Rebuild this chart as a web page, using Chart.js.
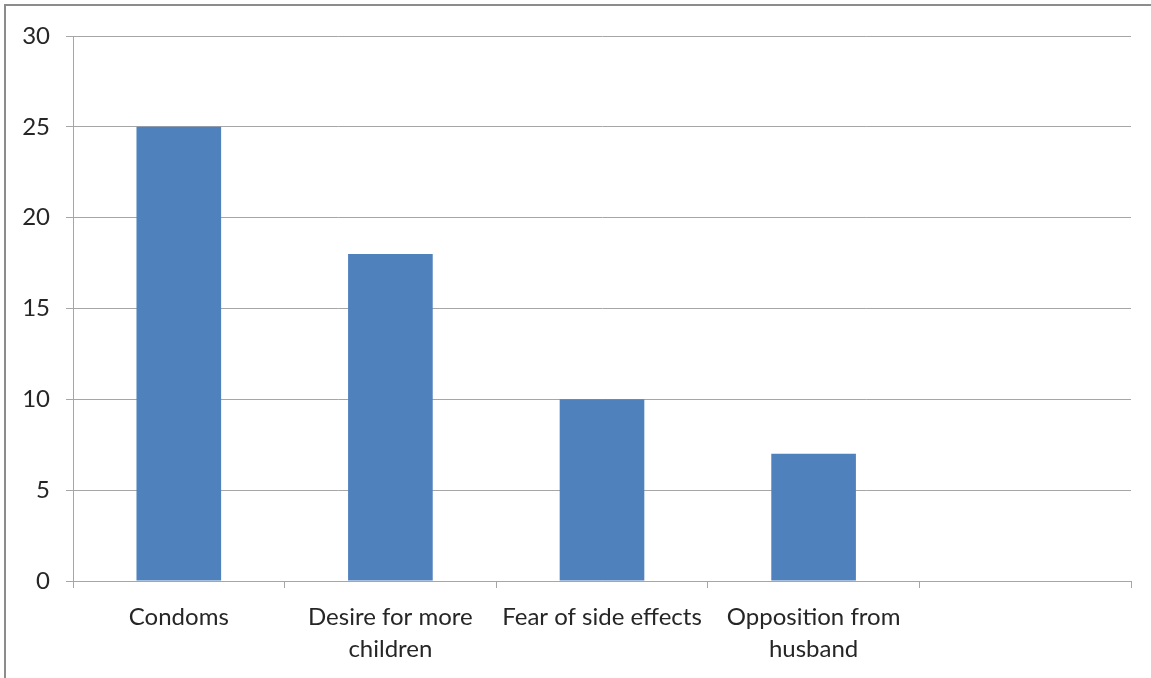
<!DOCTYPE html>
<html>
<head>
<meta charset="utf-8">
<script src="https://cdn.jsdelivr.net/npm/chart.js@4/dist/chart.umd.min.js"></script>
<style>
  html, body { margin: 0; padding: 0; background: #fff; }
  #c { display: block; }
</style>
</head>
<body>
<canvas id="c" width="1151" height="678"></canvas>
<script>
const categories = ["Condoms", ["Desire for more", "children"], "Fear of side effects", ["Opposition from", "husband"], ""];
const values = [25, 18, 10, 7, null];
const yTicks = [0, 5, 10, 15, 20, 25, 30];

const frame = {
  id: 'frame',
  beforeDraw(chart) {
    const ctx = chart.ctx;
    ctx.save();
    ctx.fillStyle = '#fff';
    ctx.fillRect(0, 0, chart.width, chart.height);
    ctx.strokeStyle = '#8c8c8c';
    ctx.lineWidth = 2;
    ctx.beginPath();
    ctx.moveTo(5, chart.height);
    ctx.lineTo(5, 5);
    ctx.lineTo(chart.width, 5);
    ctx.stroke();
    ctx.restore();
  }
};

new Chart(document.getElementById('c'), {
  type: 'bar',
  data: {
    labels: categories,
    datasets: [{
      data: values,
      backgroundColor: '#4F81BD',
      borderWidth: 0,
      barPercentage: 0.4,
      categoryPercentage: 1.0
    }]
  },
  options: {
    responsive: false,
    animation: false,
    devicePixelRatio: 1,
    layout: { padding: { top: 36, right: 20, left: 0, bottom: 0 } },
    plugins: { legend: { display: false }, tooltip: { enabled: false } },
    scales: {
      x: {
        afterFit(s) { s.height = 97; },
        grid: { display: true, drawOnChartArea: false, offset: true, color: '#a6a6a6', tickLength: 7, lineWidth: 1 },
        border: { display: true, color: '#a6a6a6', width: 1 },
        ticks: { color: '#262626', font: { family: 'Lato', size: 24, lineHeight: 1.33 }, padding: 13, maxRotation: 0, autoSkip: false }
      },
      y: {
        min: 0, max: 30,
        afterFit(s) { s.width = 73; },
        afterBuildTicks(s) { s.ticks = yTicks.map(v => ({ value: v })); },
        grid: { display: true, color: '#a6a6a6', tickLength: 7, lineWidth: 1 },
        border: { display: true, color: '#a6a6a6', width: 1 },
        ticks: { color: '#262626', font: { family: 'Lato', size: 24 }, padding: 16 }
      }
    }
  },
  plugins: [frame]
});
</script>
</body>
</html>
